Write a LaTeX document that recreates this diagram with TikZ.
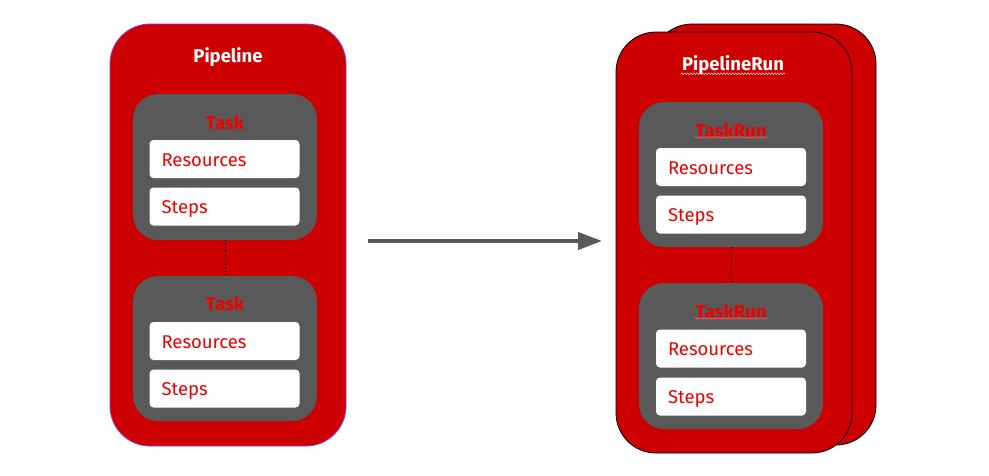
\documentclass[tikz,border=0pt]{standalone}
\usepackage{fontspec}
\setmainfont{Fira Sans}
\usetikzlibrary{arrows.meta,decorations.pathmorphing}

\definecolor{pipered}{HTML}{CC0000}
\definecolor{taskgray}{HTML}{595959}
\definecolor{labelred}{HTML}{EE0000}
\definecolor{edgepurple}{HTML}{9933CC}

\tikzset{
  outerbox/.style={draw,fill=pipered,rounded corners=40pt,line width=0.8pt},
  taskbox/.style={fill=taskgray,rounded corners=25pt},
  fieldbox/.style={fill=white,rounded corners=4pt,minimum height=38pt,
    text width=126pt,inner xsep=12pt,align=left,text=labelred,
    text height=18pt,text depth=4pt,
    font=\fontsize{18.5}{21}\selectfont},
  titletext/.style={text=white,font=\fontsize{18.5}{21}\selectfont\bfseries},
  tasktext/.style={text=labelred,font=\fontsize{18.5}{21}\selectfont\bfseries},
  squiggle/.style={decorate,decoration={snake,amplitude=0.9pt,segment length=3pt},line width=0.5pt},
  flowarrow/.style={draw=taskgray,line width=4pt,-{Triangle[length=24pt,width=17pt]}}
}

\begin{document}
\begin{tikzpicture}[x=1pt,y=-1pt]
        \useasboundingbox(0,0)rectangle(989,475);
        % pipeline
        \node(pipeline)at(228,235)[outerbox,draw=edgepurple,minimum width=236pt,minimum height=422pt]{};
        \node(pipelinelabel)at(228,57)[titletext]{Pipeline};
        \node(task1)at(225,167)[taskbox,minimum width=184pt,minimum height=146pt]{};
        \node(tasklabel1)at(225,123)[tasktext]{Task};
        \node(resources1)at(224.5,159)[fieldbox]{Resources};
        \node(steps1)at(224.5,206.5)[fieldbox]{Steps};
        \node(task2)at(225,348.5)[taskbox,minimum width=184pt,minimum height=145pt]{};
        \node(tasklabel2)at(225,304)[tasktext]{Task};
        \node(resources2)at(224.5,341)[fieldbox]{Resources};
        \node(steps2)at(224.5,388.5)[fieldbox]{Steps};
        \draw[dotted](task1)--(task2);
        % pipelinerun
        \node(runback)at(764,234.5)[outerbox,minimum width=224pt,minimum height=421pt]{};
        \node(runfront)at(734,242.5)[outerbox,minimum width=236pt,minimum height=421pt]{};
        \node(runlabel)at(733,65)[titletext,inner sep=1pt]{PipelineRun};
        \draw[squiggle,white!80!gray]([yshift=2pt]runlabel.south west)--([yshift=2pt]runlabel.south east);
        \node(taskrun1)at(731,174.5)[taskbox,minimum width=184pt,minimum height=145pt]{};
        \node(taskrunlabel1)at(731,131)[tasktext,inner sep=1pt]{TaskRun};
        \draw[squiggle,labelred!60!white]([yshift=2pt]taskrunlabel1.south west)--([yshift=2pt]taskrunlabel1.south east);
        \node(runresources1)at(731,167)[fieldbox]{Resources};
        \node(runsteps1)at(731,214.5)[fieldbox]{Steps};
        \node(taskrun2)at(731,356)[taskbox,minimum width=184pt,minimum height=146pt]{};
        \node(taskrunlabel2)at(731,312)[tasktext,inner sep=1pt]{TaskRun};
        \draw[squiggle,labelred!60!white]([yshift=2pt]taskrunlabel2.south west)--([yshift=2pt]taskrunlabel2.south east);
        \node(runresources2)at(731,348.5)[fieldbox]{Resources};
        \node(runsteps2)at(731,396.5)[fieldbox]{Steps};
        \draw[dotted](taskrun1)--(taskrun2);
        % arrow
        \coordinate(arrowstart)at(368,241);
        \coordinate(arrowend)at(602,241);
        \draw[flowarrow](arrowstart)--(arrowend);
    \end{tikzpicture}
\end{document}
